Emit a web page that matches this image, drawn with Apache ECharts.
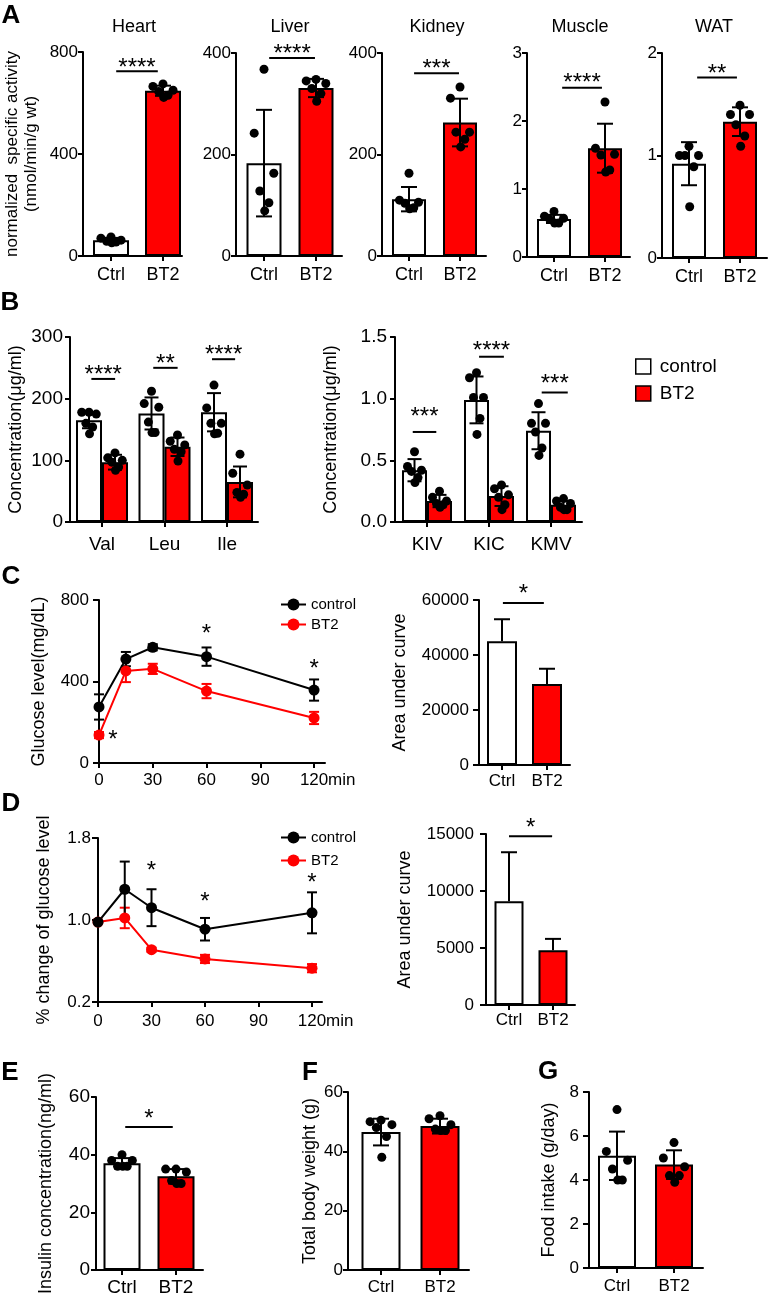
<!DOCTYPE html>
<html><head><meta charset="utf-8">
<script src="https://cdn.jsdelivr.net/npm/echarts@6/dist/echarts.min.js"></script>
<style>html,body{margin:0;padding:0;background:#fff}#c{width:769px;height:1293px}</style>
</head><body><div id="c"></div>
<script>
// ================= DATA =================
const groupLabels = ['Ctrl', 'BT2'];
const tissueNames = ['Heart', 'Liver', 'Kidney', 'Muscle', 'WAT'];

const heartMean = [62, 648];
const heartSD = [9, 20];
const heartCtrlDots = [75, 70, 62, 58, 55, 52];
const heartBT2Dots = [675, 665, 650, 645, 630, 622];
const liverMean = [183, 331];
const liverSD = [105, 18];
const liverCtrlDots = [368, 242, 163, 128, 105, 89];
const liverBT2Dots = [348, 345, 340, 330, 320, 305];
const kidneyMean = [112, 263];
const kidneySD = [24, 47];
const kidneyCtrlDots = [163, 110, 106, 104, 95, 93];
const kidneyBT2Dots = [333, 311, 244, 244, 230, 215];
const muscleMean = [0.56, 1.60];
const muscleSD = [0.06, 0.36];
const muscleCtrlDots = [0.67, 0.60, 0.57, 0.55, 0.50, 0.50];
const muscleBT2Dots = [2.28, 1.60, 1.51, 1.50, 1.28, 1.25];
const watMean = [0.92, 1.33];
const watSD = [0.21, 0.14];
const watCtrlDots = [1.09, 1.00, 1.00, 1.00, 0.89, 0.50];
const watBT2Dots = [1.49, 1.40, 1.40, 1.30, 1.19, 1.09];

const aminoAcids = ['Val', 'Leu', 'Ile'];
const aaCtrlMean = [165, 176, 178];
const aaCtrlSD = [13, 26, 31];
const aaBT2Mean = [97, 122, 65];
const aaBT2SD = [12, 15, 25];
const aaCtrlDots = [[178, 178, 175, 160, 154, 143], [212, 192, 186, 162, 145, 145], [222, 185, 160, 160, 144, 143]];
const aaBT2Dots = [[112, 104, 100, 97, 89, 84], [141, 131, 125, 118, 114, 99], [110, 79, 60, 48, 45, 40]];

const ketoAcids = ['KIV', 'KIC', 'KMV'];
const kaCtrlMean = [0.42, 0.99, 0.74];
const kaCtrlSD = [0.09, 0.19, 0.15];
const kaBT2Mean = [0.17, 0.21, 0.14];
const kaBT2SD = [0.05, 0.08, 0.03];
const kaCtrlDots = [[0.57, 0.45, 0.42, 0.41, 0.36, 0.32], [1.21, 1.17, 1.01, 1.01, 0.84, 0.71], [0.96, 0.80, 0.80, 0.73, 0.60, 0.54]];
const kaBT2Dots = [[0.25, 0.20, 0.17, 0.15, 0.14, 0.12], [0.30, 0.27, 0.22, 0.20, 0.14, 0.10], [0.19, 0.17, 0.15, 0.12, 0.10, 0.10]];

const timeMin = [0, 15, 30, 60, 120];
const timeTicks = [0, 30, 60, 90, 120];
const gttCtrl = [275, 510, 568, 522, 358];
const gttCtrlErr = [62, 35, 15, 45, 52];
const gttBT2 = [137, 452, 462, 353, 221];
const gttBT2Err = [15, 55, 25, 35, 30];
const gttAUC = [45000, 29500];
const gttAUCErr = [8000, 5500];

const ittCtrl = [0.98, 1.30, 1.12, 0.91, 1.07];
const ittCtrlErr = [0, 0.27, 0.18, 0.11, 0.20];
const ittBT2 = [0.98, 1.02, 0.71, 0.62, 0.53];
const ittBT2Err = [0, 0.10, 0.02, 0.04, 0.04];
const ittTicks = [0.2, 1.0, 1.8];
const ittAUC = [9100, 4800];
const ittAUCErr = [4300, 1000];

const insulinMean = [37, 32.5];
const insulinSD = [1.8, 2.5];
const insulinCtrlDots = [40, 38, 38, 36, 36, 36];
const insulinBT2Dots = [35, 35, 34, 31, 30, 30];
const weightMean = [46.5, 48.5];
const weightSD = [4.5, 2.5];
const weightCtrlDots = [50.5, 50, 49, 48, 45, 38];
const weightBT2Dots = [52, 51, 49, 47.5, 47, 47];
const foodMean = [5.1, 4.7];
const foodSD = [1.1, 0.65];
const foodCtrlDots = [7.2, 5.3, 4.9, 4.5, 4.0, 4.0];
const foodBT2Dots = [5.7, 5.0, 4.6, 4.2, 4.2, 3.9];

// ================= STYLE / HELPERS =================
const FONT = '"Liberation Sans", Arial, Helvetica, sans-serif';
const RED = '#ff0000';
const JIT = [0, -0.28, 0.28, -0.12, 0.14, 0.02];

const chart = echarts.init(document.getElementById('c'), null, {renderer: 'canvas', width: 769, height: 1293});
const option = {backgroundColor: '#ffffff', animation: false, textStyle: {fontFamily: FONT},
  grid: [], xAxis: [], yAxis: [], series: [], legend: [], graphic: []};

const grpFmt = v => groupLabels[Math.round(v)];
const plainFmt = v => String(v);

function makeAxes(p) {
  const gi = option.grid.length;
  option.grid.push({left: p.L, top: p.top, width: p.R - p.L, height: p.y0 - p.top, containLabel: false, outerBoundsMode: 'none'});
  const lineS = {color: '#000', width: 2};
  option.xAxis.push({
    gridIndex: gi, type: 'value', min: p.xMin, max: p.xMax,
    axisLine: {show: true, onZero: false, lineStyle: lineS},
    axisTick: {show: true, customValues: p.xTicks, length: p.xTickLen || 5, lineStyle: lineS},
    axisLabel: {show: true, customValues: p.xTicks, formatter: p.xFmt, color: '#000', fontSize: p.xFont, fontFamily: FONT, margin: p.xMargin},
    splitLine: {show: false},
    name: p.xName || '', nameLocation: 'end', nameGap: p.xNameGap || 0, nameMoveOverlap: false,
    nameTextStyle: {color: '#000', fontSize: p.xFont, fontFamily: FONT, verticalAlign: 'top', align: 'left', padding: [p.xMargin, 0, 0, 0]}
  });
  const yAx = {
    gridIndex: gi, type: 'value', min: p.yMin, max: p.yMax,
    axisLine: {show: true, onZero: false, lineStyle: lineS},
    axisTick: {show: true, length: p.yTickLen || 5, lineStyle: lineS},
    axisLabel: {show: true, color: '#000', fontSize: p.yFont, fontFamily: FONT, margin: p.yMargin, formatter: p.yFmt || plainFmt},
    splitLine: {show: false},
    name: p.yName || '', nameLocation: 'middle', nameRotate: 90, nameGap: p.nameGap || 0, nameMoveOverlap: false,
    nameTextStyle: {color: '#000', fontSize: p.nameFont || 18, fontFamily: FONT}
  };
  if (p.nameLH) yAx.nameTextStyle.lineHeight = p.nameLH;
  if (p.yTicks) { yAx.axisTick.customValues = p.yTicks; yAx.axisLabel.customValues = p.yTicks; }
  else yAx.interval = p.yInterval;
  option.yAxis.push(yAx);
  return {xAxisIndex: option.xAxis.length - 1, yAxisIndex: option.yAxis.length - 1};
}

function addSingleBars(ax, mean, bw) {
  option.series.push({type: 'bar', xAxisIndex: ax.xAxisIndex, yAxisIndex: ax.yAxisIndex, barWidth: bw, z: 2, silent: true,
    itemStyle: {borderColor: '#000', borderWidth: 2},
    data: mean.map((m, i) => ({value: [i, m], itemStyle: {color: i === 0 ? '#ffffff' : RED, borderColor: '#000', borderWidth: 2}}))});
}

function addPairBars(ax, ctrlMean, bt2Mean, bw, names) {
  option.series.push({type: 'bar', name: names[0], xAxisIndex: ax.xAxisIndex, yAxisIndex: ax.yAxisIndex, barWidth: bw, barGap: '0%', z: 2, silent: true,
    itemStyle: {color: '#ffffff', borderColor: '#000', borderWidth: 2}, data: ctrlMean.map((m, i) => [i, m])});
  option.series.push({type: 'bar', name: names[1], xAxisIndex: ax.xAxisIndex, yAxisIndex: ax.yAxisIndex, barWidth: bw, barGap: '0%', z: 2, silent: true,
    itemStyle: {color: RED, borderColor: '#000', borderWidth: 2}, data: bt2Mean.map((m, i) => [i, m])});
}

function addErr(ax, pts, opt) {
  option.series.push({type: 'custom', xAxisIndex: ax.xAxisIndex, yAxisIndex: ax.yAxisIndex, z: opt.z || 3, silent: true, clip: false,
    data: pts, encode: {x: 0, y: 1},
    renderItem: (params, api) => {
      const x = api.value(0), m = api.value(1), s = api.value(2);
      if (!s) return {type: 'group', children: []};
      const pT = api.coord([x, m + s]);
      const pB = api.coord([x, opt.upOnly ? m : m - s]);
      const cx = pT[0] + (opt.offset || 0), h = opt.cap / 2;
      const ls = {stroke: opt.color || '#000', lineWidth: opt.width || 2};
      const ch = [
        {type: 'line', shape: {x1: cx, y1: pT[1], x2: cx, y2: pB[1]}, style: ls},
        {type: 'line', shape: {x1: cx - h, y1: pT[1], x2: cx + h, y2: pT[1]}, style: ls}
      ];
      if (!opt.upOnly) ch.push({type: 'line', shape: {x1: cx - h, y1: pB[1], x2: cx + h, y2: pB[1]}, style: ls});
      return {type: 'group', children: ch};
    }});
}

function addDots(ax, pts, opt) {
  option.series.push({type: 'custom', xAxisIndex: ax.xAxisIndex, yAxisIndex: ax.yAxisIndex, z: 4, silent: true, clip: false,
    data: pts, encode: {x: 0, y: 1},
    renderItem: (params, api) => {
      const p = api.coord([api.value(0), api.value(1)]);
      const k = params.dataIndex % 6;
      return {type: 'circle', shape: {cx: p[0] + (opt.offset || 0) + JIT[k] * opt.spread, cy: p[1], r: opt.r || 4.5}, style: {fill: '#000'}};
    }});
}

function addSig(ax, items) {
  option.series.push({type: 'custom', xAxisIndex: ax.xAxisIndex, yAxisIndex: ax.yAxisIndex, z: 5, silent: true, clip: false,
    data: items.map(s => [s.x0, s.x1, s.y]), encode: {x: [0, 1], y: 2},
    renderItem: (params, api) => {
      const it = items[params.dataIndex];
      const p0 = api.coord([api.value(0), api.value(2)]);
      const p1 = api.coord([api.value(1), api.value(2)]);
      return {type: 'group', children: [
        {type: 'line', shape: {x1: p0[0], y1: p0[1], x2: p1[0], y2: p1[1]}, style: {stroke: '#000', lineWidth: 2}},
        {type: 'text', style: {text: it.text, x: (p0[0] + p1[0]) / 2, y: p0[1] - it.g + 5.5, fill: '#000', font: '24px ' + FONT, align: 'center', verticalAlign: 'middle'}}
      ]};
    }});
}

function addStars(ax, pts) {
  option.series.push({type: 'custom', xAxisIndex: ax.xAxisIndex, yAxisIndex: ax.yAxisIndex, z: 5, silent: true, clip: false,
    data: pts, encode: {x: 0, y: 1},
    renderItem: (params, api) => {
      const p = api.coord([api.value(0), api.value(1)]);
      return {type: 'text', style: {text: '*', x: p[0], y: p[1] + 5.5, fill: '#000', font: '24px ' + FONT, align: 'center', verticalAlign: 'middle'}};
    }});
}

function addLine(ax, name, xs, ys, errs, color) {
  addErr(ax, xs.map((t, i) => [t, ys[i], errs[i]]), {cap: 10, color: color, width: 2, z: 3});
  option.series.push({type: 'line', name: name, xAxisIndex: ax.xAxisIndex, yAxisIndex: ax.yAxisIndex,
    data: xs.map((t, i) => [t, ys[i]]), symbol: 'circle', symbolSize: 11, z: 4, silent: true,
    itemStyle: {color: color}, lineStyle: {color: color, width: 2}});
}

function gText(x, y, text, size, bold) {
  option.graphic.push({type: 'text', x: x, y: y, silent: true,
    style: {text: text, fill: '#000', font: (bold ? 'bold ' : '') + size + 'px ' + FONT, align: 'center', verticalAlign: 'middle'}});
}

function twoGroupPanel(p, mean, sd, ctrlDots, bt2Dots) {
  const unit = p.cx1 - p.cx0;
  const ax = makeAxes(Object.assign({xMin: (p.L - p.cx0) / unit, xMax: (p.R - p.cx0) / unit, xTicks: [0, 1], xFmt: grpFmt, yMin: 0}, p));
  addSingleBars(ax, mean, p.bw);
  addErr(ax, mean.map((m, i) => [i, m, sd[i]]), {cap: 16, upOnly: !!p.upOnly});
  if (ctrlDots) {
    addDots(ax, ctrlDots.map(v => [0, v]), {spread: p.bw});
    addDots(ax, bt2Dots.map(v => [1, v]), {spread: p.bw});
  }
  if (p.sig) addSig(ax, [p.sig]);
  return ax;
}

// ================= PANEL A =================
const aLayout = [
  {L: 83, R: 182, top: 52, y0: 256, cx0: 111, cx1: 163, bw: 36, yMax: 800, yInterval: 400, titleX: 134,
   yName: 'normalized  specific activity\n(nmol/min/g wt)', nameGap: 42, nameFont: 17, nameLH: 19,
   sig: {x0: 0.1, x1: 0.9, y: 725, text: '****', g: 8}},
  {L: 236, R: 342, top: 53, y0: 256, cx0: 264, cx1: 316, bw: 35, yMax: 400, yInterval: 200, titleX: 290,
   sig: {x0: 0.1, x1: 0.98, y: 390, text: '****', g: 9}},
  {L: 382, R: 486, top: 53, y0: 256, cx0: 409, cx1: 460, bw: 34, yMax: 400, yInterval: 200, titleX: 437,
   sig: {x0: 0.1, x1: 0.98, y: 360, text: '***', g: 9.5}},
  {L: 527, R: 630, top: 53, y0: 257, cx0: 554, cx1: 605, bw: 34, yMax: 3, yInterval: 1, titleX: 580,
   sig: {x0: 0.16, x1: 0.94, y: 2.49, text: '****', g: 9.5}},
  {L: 662, R: 767, top: 53, y0: 258, cx0: 689, cx1: 740, bw: 34, yMax: 2, yInterval: 1, titleX: 714,
   sig: {x0: 0.16, x1: 0.94, y: 1.76, text: '**', g: 9}}
];
const aData = [
  [heartMean, heartSD, heartCtrlDots, heartBT2Dots],
  [liverMean, liverSD, liverCtrlDots, liverBT2Dots],
  [kidneyMean, kidneySD, kidneyCtrlDots, kidneyBT2Dots],
  [muscleMean, muscleSD, muscleCtrlDots, muscleBT2Dots],
  [watMean, watSD, watCtrlDots, watBT2Dots]
];
aLayout.forEach((lay, i) => {
  const p = Object.assign({xFont: 18, xMargin: 10, yFont: 17, yMargin: 5}, lay);
  twoGroupPanel(p, aData[i][0], aData[i][1], aData[i][2], aData[i][3]);
  gText(lay.titleX, 27, tissueNames[i], 18, false);
});

// ================= PANEL B =================
function pairPanel(p, cats, cM, cS, bM, bS, cD, bD, names) {
  const unit = (p.c2 - p.c0) / 2;
  const ax = makeAxes(Object.assign({xMin: (p.L - p.c0) / unit, xMax: (p.R - p.c0) / unit, xTicks: [0, 1, 2],
    xFmt: v => cats[Math.round(v)], yMin: 0}, p));
  addPairBars(ax, cM, bM, p.bw, names);
  addErr(ax, cM.map((m, i) => [i, m, cS[i]]), {cap: 14, offset: -p.bw / 2});
  addErr(ax, bM.map((m, i) => [i, m, bS[i]]), {cap: 14, offset: p.bw / 2});
  const cPts = [], bPts = [];
  cD.forEach((arr, i) => arr.forEach(v => cPts.push([i, v])));
  bD.forEach((arr, i) => arr.forEach(v => bPts.push([i, v])));
  addDots(ax, cPts, {offset: -p.bw / 2, spread: p.bw, r: 4.5});
  addDots(ax, bPts, {offset: p.bw / 2, spread: p.bw, r: 4.5});
  addSig(ax, p.sig);
  return ax;
}
pairPanel({L: 70, R: 258, top: 337, y0: 522, c0: 102, c2: 227, bw: 26, yMax: 300, yInterval: 100,
  xFont: 19, xMargin: 13, yFont: 19, yMargin: 7, yName: 'Concentration(μg/ml)', nameGap: 45, nameFont: 18,
  sig: [{x0: -0.17, x1: 0.21, y: 232, text: '****', g: 9}, {x0: 0.82, x1: 1.21, y: 250, text: '**', g: 8.5}, {x0: 1.76, x1: 2.13, y: 264, text: '****', g: 9.5}]},
  aminoAcids, aaCtrlMean, aaCtrlSD, aaBT2Mean, aaBT2SD, aaCtrlDots, aaBT2Dots, ['control_B', 'BT2_B']);
pairPanel({L: 395, R: 582, top: 337, y0: 522, c0: 427, c2: 551, bw: 25, yMax: 1.5, yInterval: 0.5, yFmt: v => v.toFixed(1),
  xFont: 19, xMargin: 13, yFont: 19, yMargin: 8, yName: 'Concentration(μg/ml)', nameGap: 55, nameFont: 18,
  sig: [{x0: -0.23, x1: 0.15, y: 0.73, text: '***', g: 20}, {x0: 0.84, x1: 1.24, y: 1.34, text: '****', g: 10.5}, {x0: 1.85, x1: 2.27, y: 1.05, text: '***', g: 13.5}]},
  ketoAcids, kaCtrlMean, kaCtrlSD, kaBT2Mean, kaBT2SD, kaCtrlDots, kaBT2Dots, ['control_B', 'BT2_B']);

option.legend.push({data: ['control_B', 'BT2_B'], orient: 'vertical', left: 635, top: 357, padding: 0,
  itemWidth: 15, itemHeight: 15, itemGap: 8, icon: 'rect', selectedMode: false,
  formatter: n => n.split('_')[0],
  textStyle: {color: '#000', fontSize: 19, fontFamily: FONT, padding: [0, 0, 0, 4]},
  itemStyle: {borderColor: '#000', borderWidth: 1.5}});

// ================= PANEL C =================
const axC = makeAxes({L: 99, R: 325, top: 600, y0: 763, xMin: 0, xMax: 126.1, xTicks: timeTicks, xFmt: plainFmt,
  xFont: 17, xMargin: 9, xName: 'min', xNameGap: 3, yMin: 0, yMax: 800, yInterval: 400, yFont: 17, yMargin: 10, yTickLen: 6,
  yName: 'Glucose level(mg/dL)', nameGap: 51, nameFont: 18});
addLine(axC, 'BT2_C', timeMin, gttBT2, gttBT2Err, RED);
addLine(axC, 'control_C', timeMin, gttCtrl, gttCtrlErr, '#000');
addStars(axC, [[60, 658], [120, 486], [7.8, 137]]);
option.legend.push({data: ['control_C', 'BT2_C'], orient: 'vertical', left: 280, top: 597, padding: 0,
  itemWidth: 25, itemHeight: 15, itemGap: 5, selectedMode: false, formatter: n => n.split('_')[0],
  textStyle: {color: '#000', fontSize: 15, fontFamily: FONT}});

twoGroupPanel({L: 479, R: 570, top: 600, y0: 765, cx0: 502, cx1: 547, bw: 30, yMax: 60000, yInterval: 20000, upOnly: true,
  xFont: 17, xMargin: 8, yFont: 17, yMargin: 10, yTickLen: 6, yName: 'Area under curve', nameGap: 70, nameFont: 18,
  sig: {x0: 0.02, x1: 0.93, y: 58900, text: '*', g: 14}}, gttAUC, gttAUCErr, null, null);

// ================= PANEL D =================
const axD = makeAxes({L: 98, R: 322, top: 838, y0: 1002, xMin: 0, xMax: 125.6, xTicks: timeTicks, xFmt: plainFmt,
  xFont: 17, xMargin: 11, xName: 'min', xNameGap: 4, yMin: 0.2, yMax: 1.8, yTicks: ittTicks, yFmt: v => v.toFixed(1),
  yFont: 17, yMargin: 7, yTickLen: 6, yName: '% change of glucose level', nameGap: 45, nameFont: 18});
addLine(axD, 'BT2_D', timeMin, ittBT2, ittBT2Err, RED);
addLine(axD, 'control_D', timeMin, ittCtrl, ittCtrlErr, '#000');
addStars(axD, [[30, 1.527], [60, 1.224], [120, 1.41]]);
option.legend.push({data: ['control_D', 'BT2_D'], orient: 'vertical', left: 280, top: 830, padding: 0,
  itemWidth: 25, itemHeight: 15, itemGap: 8, selectedMode: false, formatter: n => n.split('_')[0],
  textStyle: {color: '#000', fontSize: 15, fontFamily: FONT}});

twoGroupPanel({L: 486, R: 575, top: 834, y0: 1005, cx0: 509, cx1: 553, bw: 29, yMax: 15000, yInterval: 5000, upOnly: true,
  xFont: 17, xMargin: 7, yFont: 17, yMargin: 12, yTickLen: 6, yName: 'Area under curve', nameGap: 72, nameFont: 18,
  sig: {x0: 0.0, x1: 0.98, y: 14800, text: '*', g: 13.5}}, ittAUC, ittAUCErr, null, null);

// ================= PANELS E, F, G =================
twoGroupPanel({L: 96, R: 203, top: 1097, y0: 1270, cx0: 122, cx1: 176, bw: 37, yMax: 60, yInterval: 20,
  xFont: 19, xMargin: 8, yFont: 19, yMargin: 6, yName: 'Insulin concentration(ng/ml)', nameGap: 41, nameFont: 18,
  sig: {x0: 0.06, x1: 0.94, y: 49.6, text: '*', g: 13}}, insulinMean, insulinSD, insulinCtrlDots, insulinBT2Dots);
twoGroupPanel({L: 348, R: 469, top: 1092, y0: 1270, cx0: 381, cx1: 440, bw: 39, yMax: 60, yInterval: 20,
  xFont: 17, xMargin: 9, yFont: 17, yMargin: 5, yName: 'Total body weight (g)', nameGap: 29, nameFont: 18},
  weightMean, weightSD, weightCtrlDots, weightBT2Dots);
twoGroupPanel({L: 589, R: 703, top: 1092, y0: 1268, cx0: 617, cx1: 674, bw: 38, yMax: 8, yInterval: 2,
  xFont: 17, xMargin: 10, yFont: 17, yMargin: 10, yTickLen: 6, yName: 'Food intake (g/day)', nameGap: 31, nameFont: 18},
  foodMean, foodSD, foodCtrlDots, foodBT2Dots);

// ================= PANEL LETTERS =================
gText(11, 16, 'A', 26, true);
gText(10, 303, 'B', 26, true);
gText(11, 577, 'C', 26, true);
gText(11, 804, 'D', 26, true);
gText(10, 1073, 'E', 26, true);
gText(310, 1073, 'F', 26, true);
gText(548, 1072, 'G', 26, true);

chart.setOption(option);
</script>
</body></html>
